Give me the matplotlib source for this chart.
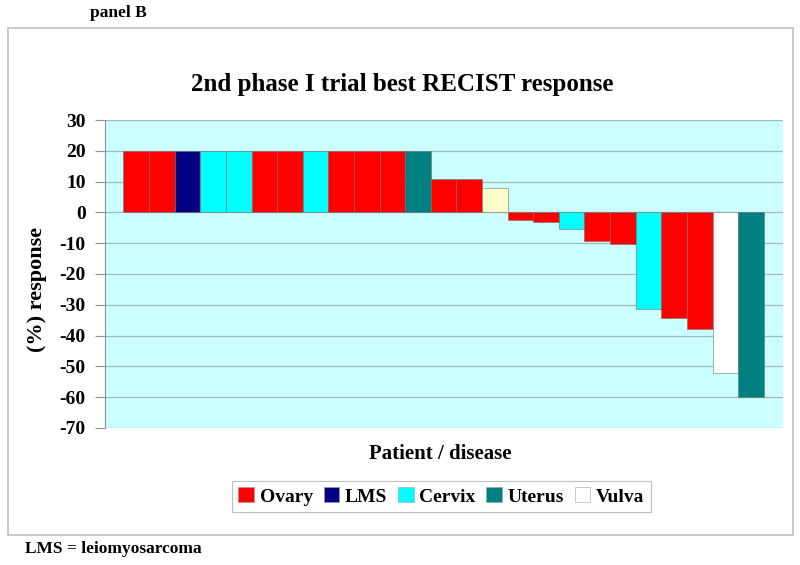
"""Waterfall plot of best RECIST response, panel B."""

import matplotlib
matplotlib.use('Agg')
import matplotlib.pyplot as plt
from matplotlib.patches import Patch, Rectangle

# data -----------------------------------------------------------------------
diseases = ['Ovary', 'Ovary', 'LMS', 'Cervix', 'Cervix', 'Ovary', 'Ovary',
            'Cervix', 'Ovary', 'Ovary', 'Ovary', 'Uterus', 'Ovary', 'Ovary',
            'Other', 'Ovary', 'Ovary', 'Cervix', 'Ovary', 'Ovary', 'Cervix',
            'Ovary', 'Ovary', 'Vulva', 'Uterus']
response = [20, 20, 20, 20, 20, 20, 20, 20, 20, 20, 20, 20, 11, 11, 8,
            -2.4, -3.2, -5.3, -9.2, -10.3, -31.3, -34.3, -37.9, -52, -60]
legend_names = ['Ovary', 'LMS', 'Cervix', 'Uterus', 'Vulva']
yticks = list(range(-70, 31, 10))

colors = {'Ovary': '#ff0000', 'LMS': '#000080', 'Cervix': '#00ffff',
          'Uterus': '#008080', 'Vulva': '#ffffff', 'Other': '#ffffcc'}

plt.rcParams['font.family'] = ['Liberation Serif', 'DejaVu Serif']
plt.rcParams['font.weight'] = 'bold'

fig = plt.figure(figsize=(8, 5.65), dpi=100)

# outer chart frame
fig.patches.append(Rectangle((0.01, 0.053), 0.981, 0.897, transform=fig.transFigure,
                             fill=False, edgecolor='#c0c0c0', linewidth=1.2))

ax = fig.add_axes([0.13125, 0.2425, 0.8475, 0.5451])
ax.set_facecolor('#ccffff')

xs = range(len(response))
ax.bar(xs, response, width=1.0, color=[colors[d] for d in diseases],
       edgecolor='#707070', linewidth=0.4, zorder=3)

ax.set_ylim(-70, 30)
ax.set_xlim(-1.22, len(response) - 1 + 1.25)
ax.set_yticks(yticks)
ax.set_yticklabels([str(t) for t in yticks], fontsize=14, fontweight='bold')
ax.set_xticks([])
ax.grid(axis='y', color='#9fb8b8', linewidth=0.9, zorder=1)
ax.tick_params(axis='y', direction='out', length=7, color='#909090', pad=7)

for side in ['top', 'right', 'bottom']:
    ax.spines[side].set_visible(False)
ax.spines['left'].set_color('#909090')

# axis titles placed like the original chart
fig.text(0.046, 1 - 289 / 565, '(%) response', rotation=90, ha='center', va='center',
         fontsize=16, fontweight='bold')
fig.text(0.55, 1 - 454 / 565, 'Patient / disease', ha='center', va='center',
         fontsize=15, fontweight='bold')

fig.text(0.503, 1 - 85 / 565, '2nd phase I trial best RECIST response',
         ha='center', va='center', fontsize=18, fontweight='bold')
fig.text(0.113, 0.977, 'panel B', ha='left', va='center', fontsize=12.5, fontweight='bold')
fig.text(0.031, 0.028, 'LMS = leiomyosarcoma', ha='left', va='center',
         fontsize=12.5, fontweight='bold')

handles = [Patch(facecolor=colors[n], edgecolor='#a0a0a0', linewidth=0.4) for n in legend_names]
leg = fig.legend(handles, legend_names, loc='center', bbox_to_anchor=(441.5 / 800, 1 - 496.5 / 565),
                 ncol=5, frameon=True, fancybox=False, fontsize=14,
                 handlelength=0.8, handleheight=0.8, handletextpad=0.3,
                 columnspacing=0.55, borderpad=0.35)
leg.get_frame().set_edgecolor('#b0b0b0')
leg.get_frame().set_linewidth(0.8)

fig.savefig('out.png', dpi=100)
